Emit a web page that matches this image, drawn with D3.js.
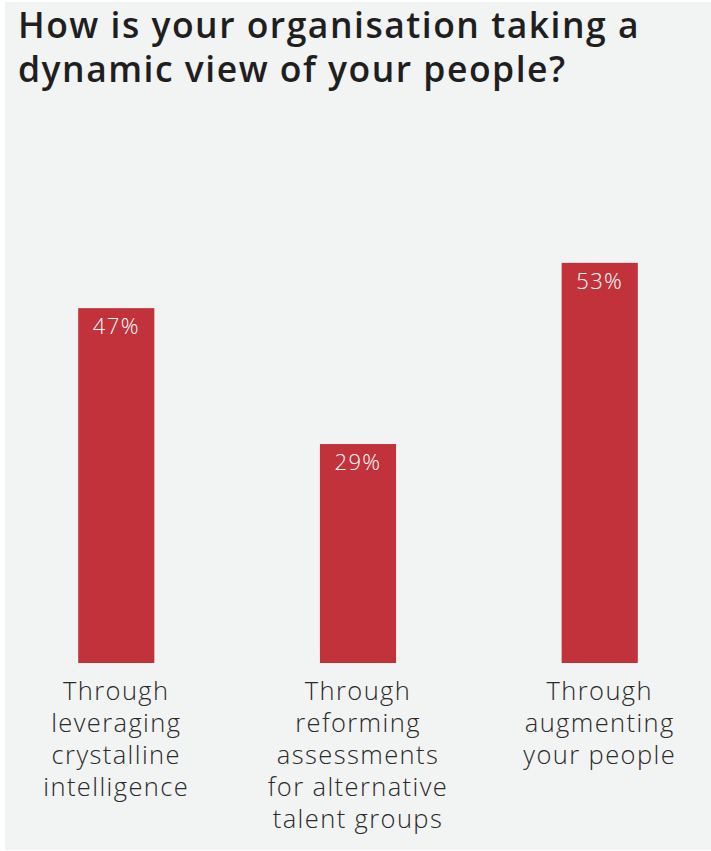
<!DOCTYPE html>
<html>
<head>
<meta charset="utf-8">
<script src="https://cdn.jsdelivr.net/npm/d3@7"></script>
<style>
  html, body { margin: 0; padding: 0; background: #ffffff; }
  svg { display: block; }
</style>
</head>
<body>
<svg id="chart" width="711" height="851"></svg>
<script>
// Survey answers and their shares (%)
const categories = [
  "Through leveraging crystalline intelligence",
  "Through reforming assessments for alternative talent groups",
  "Through augmenting your people"
];
const categoryLines = [
  ["Through", "leveraging", "crystalline", "intelligence"],
  ["Through", "reforming", "assessments", "for alternative", "talent groups"],
  ["Through", "augmenting", "your people"]
];
const values = [47, 29, 53];
const titleLines = ["How is your organisation taking a", "dynamic view of your people?"];

const W = 711, H = 851;
const FONT = "'Open Sans', Lato, sans-serif";
const svg = d3.select("#chart");

// Panel background
svg.append("rect")
  .attr("x", 5).attr("y", 2)
  .attr("width", W - 5).attr("height", 848)
  .attr("fill", "#f2f3f3");

// Title (two lines in one text element)
svg.append("text")
  .attr("font-family", FONT)
  .attr("font-weight", 600)
  .attr("font-size", 35.5)
  .attr("letter-spacing", 1.5)
  .attr("fill", "#1f1f1f")
  .selectAll("tspan")
  .data(titleLines)
  .join("tspan")
  .attr("x", 18)
  .attr("y", (d, i) => 38 + i * 44)
  .text(d => d);

// Scales
const baseline = 663;
const x = d3.scaleBand()
  .domain(categories)
  .range([-4, 720])
  .paddingInner(0.685)
  .paddingOuter(0.34);
const y = d3.scaleLinear()
  .domain([0, 100])
  .range([baseline, baseline - 755]);

const bars = svg.append("g").selectAll("g")
  .data(categories)
  .join("g");

bars.append("rect")
  .attr("x", d => x(d))
  .attr("width", x.bandwidth())
  .attr("y", (d, i) => y(values[i]))
  .attr("height", (d, i) => y(0) - y(values[i]))
  .attr("fill", "#c1323a");

// Value labels inside the bars
bars.append("text")
  .attr("x", d => x(d) + x.bandwidth() / 2)
  .attr("y", (d, i) => y(values[i]) + 26)
  .attr("text-anchor", "middle")
  .attr("font-family", FONT)
  .attr("font-weight", 300)
  .attr("font-size", 22)
  .attr("letter-spacing", 1.4)
  .attr("fill", "#ffffff")
  .text((d, i) => values[i] + "%");

// Category labels below the bars
bars.append("text")
  .attr("text-anchor", "middle")
  .attr("font-family", FONT)
  .attr("font-weight", 300)
  .attr("font-size", 25.5)
  .attr("letter-spacing", 1.4)
  .attr("fill", "#2a2a2a")
  .selectAll("tspan")
  .data((d, i) => categoryLines[i].map(t => ({ t, c: d })))
  .join("tspan")
  .attr("x", d => x(d.c) + x.bandwidth() / 2)
  .attr("y", (d, j) => 700 + j * 32)
  .text(d => d.t);
</script>
</body>
</html>
